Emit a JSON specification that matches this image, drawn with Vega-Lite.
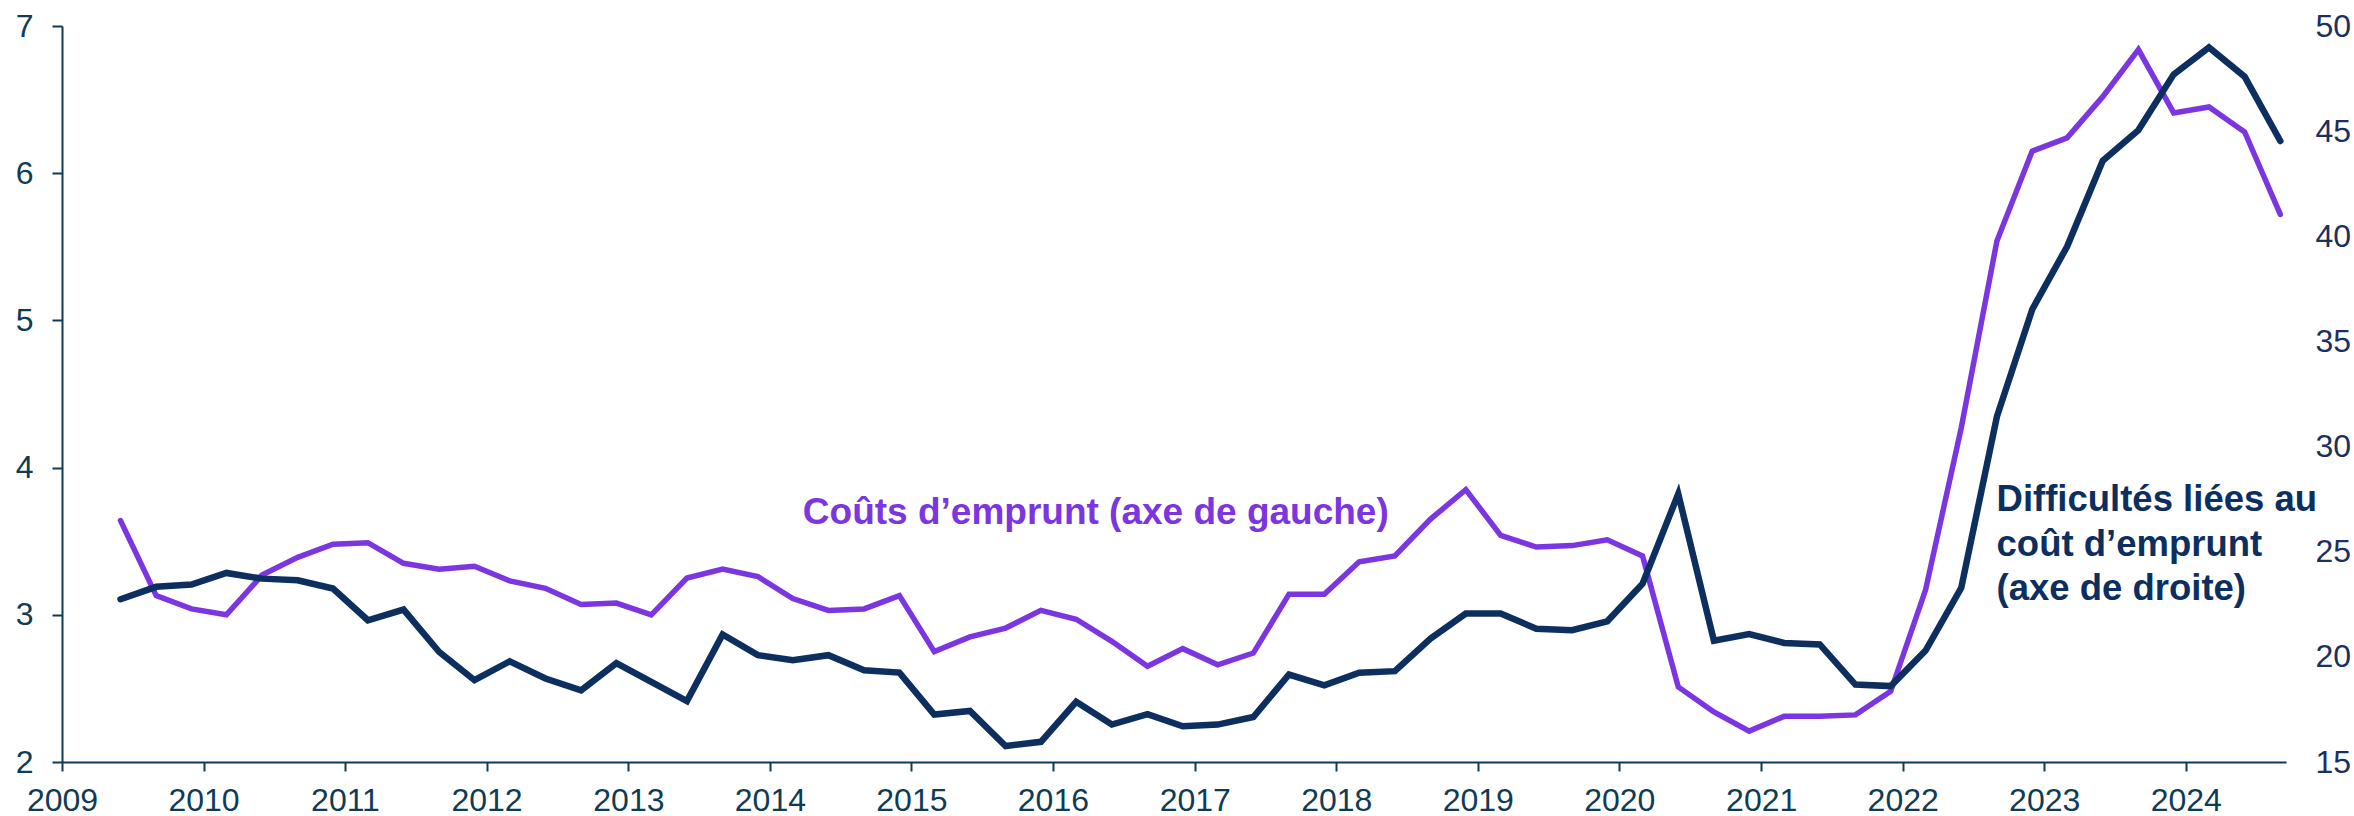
{
  "$schema": "https://vega.github.io/schema/vega-lite/v6.json",
  "width": 2224,
  "height": 736,
  "autosize": "none",
  "padding": {"left": 62, "top": 26, "right": 68, "bottom": 54},
  "background": "white",
  "config": {"view": {"stroke": null}, "font": "Liberation Sans"},
  "datasets": {
    "series": [
      {"date": "2009-06-01", "cout": 3.64, "diff": 22.74},
      {"date": "2009-09-01", "cout": 3.13, "diff": 23.33},
      {"date": "2009-12-01", "cout": 3.04, "diff": 23.44},
      {"date": "2010-03-01", "cout": 3.00, "diff": 23.99},
      {"date": "2010-06-01", "cout": 3.27, "diff": 23.72},
      {"date": "2010-09-01", "cout": 3.39, "diff": 23.64},
      {"date": "2010-12-01", "cout": 3.48, "diff": 23.25},
      {"date": "2011-03-01", "cout": 3.49, "diff": 21.74},
      {"date": "2011-06-01", "cout": 3.35, "diff": 22.25},
      {"date": "2011-09-01", "cout": 3.31, "diff": 20.23},
      {"date": "2011-12-01", "cout": 3.33, "diff": 18.89},
      {"date": "2012-03-01", "cout": 3.23, "diff": 19.79},
      {"date": "2012-06-01", "cout": 3.18, "diff": 18.97},
      {"date": "2012-09-01", "cout": 3.07, "diff": 18.41},
      {"date": "2012-12-01", "cout": 3.08, "diff": 19.70},
      {"date": "2013-03-01", "cout": 3.00, "diff": 18.81},
      {"date": "2013-06-01", "cout": 3.25, "diff": 17.90},
      {"date": "2013-09-01", "cout": 3.31, "diff": 21.06},
      {"date": "2013-12-01", "cout": 3.26, "diff": 20.08},
      {"date": "2014-03-01", "cout": 3.11, "diff": 19.84},
      {"date": "2014-06-01", "cout": 3.03, "diff": 20.08},
      {"date": "2014-09-01", "cout": 3.04, "diff": 19.36},
      {"date": "2014-12-01", "cout": 3.13, "diff": 19.25},
      {"date": "2015-03-01", "cout": 2.75, "diff": 17.26},
      {"date": "2015-06-01", "cout": 2.85, "diff": 17.43},
      {"date": "2015-09-01", "cout": 2.91, "diff": 15.76},
      {"date": "2015-12-01", "cout": 3.03, "diff": 15.96},
      {"date": "2016-03-01", "cout": 2.97, "diff": 17.86},
      {"date": "2016-06-01", "cout": 2.82, "diff": 16.78},
      {"date": "2016-09-01", "cout": 2.65, "diff": 17.28},
      {"date": "2016-12-01", "cout": 2.77, "diff": 16.70},
      {"date": "2017-03-01", "cout": 2.66, "diff": 16.78},
      {"date": "2017-06-01", "cout": 2.74, "diff": 17.14},
      {"date": "2017-09-01", "cout": 3.14, "diff": 19.16},
      {"date": "2017-12-01", "cout": 3.14, "diff": 18.65},
      {"date": "2018-03-01", "cout": 3.36, "diff": 19.25},
      {"date": "2018-06-01", "cout": 3.40, "diff": 19.32},
      {"date": "2018-09-01", "cout": 3.65, "diff": 20.87},
      {"date": "2018-12-01", "cout": 3.85, "diff": 22.06},
      {"date": "2019-03-01", "cout": 3.54, "diff": 22.06},
      {"date": "2019-06-01", "cout": 3.46, "diff": 21.34},
      {"date": "2019-09-01", "cout": 3.47, "diff": 21.27},
      {"date": "2019-12-01", "cout": 3.51, "diff": 21.69},
      {"date": "2020-03-01", "cout": 3.40, "diff": 23.48},
      {"date": "2020-06-01", "cout": 2.51, "diff": 27.75},
      {"date": "2020-09-01", "cout": 2.34, "diff": 20.77},
      {"date": "2020-12-01", "cout": 2.21, "diff": 21.08},
      {"date": "2021-03-01", "cout": 2.31, "diff": 20.66},
      {"date": "2021-06-01", "cout": 2.31, "diff": 20.59},
      {"date": "2021-09-01", "cout": 2.32, "diff": 18.68},
      {"date": "2021-12-01", "cout": 2.48, "diff": 18.61},
      {"date": "2022-03-01", "cout": 3.17, "diff": 20.30},
      {"date": "2022-06-01", "cout": 4.27, "diff": 23.28},
      {"date": "2022-09-01", "cout": 5.54, "diff": 31.43},
      {"date": "2022-12-01", "cout": 6.15, "diff": 36.52},
      {"date": "2023-03-01", "cout": 6.24, "diff": 39.51},
      {"date": "2023-06-01", "cout": 6.52, "diff": 43.59},
      {"date": "2023-09-01", "cout": 6.84, "diff": 45.05},
      {"date": "2023-12-01", "cout": 6.41, "diff": 47.70},
      {"date": "2024-03-01", "cout": 6.45, "diff": 48.98},
      {"date": "2024-06-01", "cout": 6.28, "diff": 47.59},
      {"date": "2024-09-01", "cout": 5.72, "diff": 44.53}
    ],
    "lab1": [
      {"date": "2014-03-27", "v": 3.618, "t": "Coûts d’emprunt (axe de gauche)"}
    ],
    "lab2": [
      {"date": "2022-08-31", "v": 3.706, "t": "Difficultés liées au"},
      {"date": "2022-08-31", "v": 3.397, "t": "coût d’emprunt"},
      {"date": "2022-08-31", "v": 3.103, "t": "(axe de droite)"}
    ]
  },
  "encoding": {
    "x": {
      "field": "date",
      "type": "temporal",
      "scale": {
        "type": "utc",
        "domain": [
          {"year": 2009, "month": 1, "date": 1, "utc": true},
          {"year": 2024, "month": 9, "date": 15, "hours": 16, "utc": true}
        ]
      },
      "axis": {
        "title": null,
        "format": "%Y",
        "tickCount": {"interval": "year", "step": 1},
        "grid": false,
        "domainColor": "#0F3B55",
        "domainWidth": 2,
        "tickColor": "#0F3B55",
        "tickWidth": 2,
        "tickSize": 9,
        "labelFontSize": 32,
        "labelColor": "#0F3B55",
        "labelPadding": 14,
        "labelFlush": false,
        "labelOverlap": false
      }
    }
  },
  "layer": [
    {
      "data": {"name": "series"},
      "mark": {"type": "line", "color": "#7B35E1", "strokeWidth": 5.5, "strokeCap": "round"},
      "encoding": {
        "y": {
          "field": "cout",
          "type": "quantitative",
          "scale": {"domain": [2, 7], "nice": false, "zero": false},
          "axis": {
            "title": null,
            "orient": "left",
            "values": [2, 3, 4, 5, 6, 7],
            "grid": false,
            "domainColor": "#0F3B55",
            "domainWidth": 2,
            "tickColor": "#0F3B55",
            "tickWidth": 2,
            "tickSize": 10,
            "labelFontSize": 32,
            "labelColor": "#0F3B55",
            "labelPadding": 19,
            "labelFlush": false
          }
        }
      }
    },
    {
      "data": {"name": "series"},
      "mark": {"type": "line", "color": "#0C2F5F", "strokeWidth": 6.5, "strokeCap": "round"},
      "encoding": {
        "y": {
          "field": "diff",
          "type": "quantitative",
          "scale": {"domain": [15, 50], "nice": false, "zero": false},
          "axis": {
            "title": null,
            "orient": "right",
            "values": [15, 20, 25, 30, 35, 40, 45, 50],
            "grid": false,
            "domain": false,
            "ticks": false,
            "labelFontSize": 32,
            "labelColor": "#1C2F5E",
            "labelPadding": 29,
            "labelFlush": false
          }
        }
      }
    },
    {
      "data": {"name": "lab1"},
      "mark": {"type": "text", "align": "left", "baseline": "alphabetic", "fontSize": 37, "fontWeight": "bold", "color": "#7B35E1"},
      "encoding": {
        "y": {"field": "v", "type": "quantitative", "scale": {"domain": [2, 7], "nice": false, "zero": false}, "axis": null},
        "text": {"field": "t"}
      }
    },
    {
      "data": {"name": "lab2"},
      "mark": {"type": "text", "align": "left", "baseline": "alphabetic", "fontSize": 36.5, "fontWeight": "bold", "color": "#0C2F5F"},
      "encoding": {
        "y": {"field": "v", "type": "quantitative", "scale": {"domain": [2, 7], "nice": false, "zero": false}, "axis": null},
        "text": {"field": "t"}
      }
    }
  ],
  "resolve": {"scale": {"y": "independent"}}
}
